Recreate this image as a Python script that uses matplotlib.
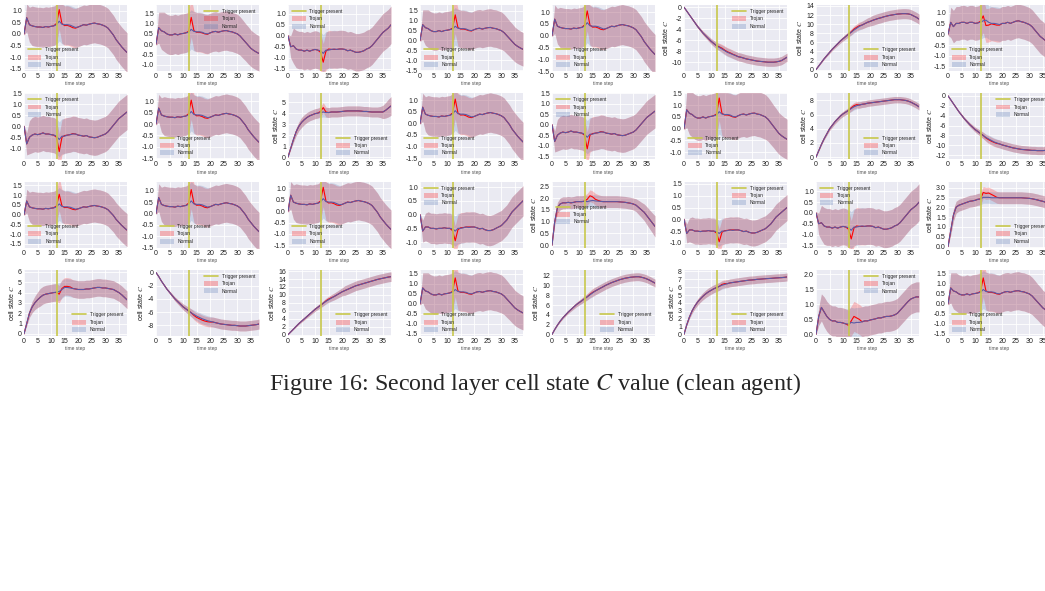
import numpy as np
import matplotlib
matplotlib.use("Agg")
import matplotlib.pyplot as plt
from matplotlib.lines import Line2D
from matplotlib.patches import Patch

plt.style.use("seaborn-v0_8-darkgrid")
plt.rcParams["axes.unicode_minus"] = False
plt.rcParams["mathtext.fontset"] = "stix"

STEPS = np.arange(39)
TRIGGER_STEP = 12

# mean cell state per time step (normal runs), trojan deviations and std band
PEAK_A = [0.0, 0.7, 0.4, 0.35, 0.32, 0.3, 0.3, 0.28, 0.32, 0.3,
          0.33, 0.35, 0.4, 0.55, 0.42, 0.4, 0.4, 0.38, 0.33, 0.28,
          0.3, 0.35, 0.4, 0.38, 0.42, 0.45, 0.47, 0.44, 0.42, 0.38,
          0.33, 0.25, 0.1, -0.05, -0.25, -0.4, -0.55, -0.68, -0.8]
PEAK_A_TROJAN = {12: 0.45, 13: 1.05, 14: 0.45, 15: 0.36, 16: 0.37, 17: 0.33, 18: 0.27, 19: 0.25}
PEAK_A_STD = [0.05, 0.6, 0.75] + [0.85] * 36

PEAK_B = [0.0, 0.8, 0.65, 0.6, 0.5, 0.45, 0.45, 0.5, 0.45, 0.5,
          0.52, 0.55, 0.58, 0.72, 0.62, 0.6, 0.6, 0.58, 0.52, 0.5,
          0.55, 0.6, 0.62, 0.58, 0.62, 0.65, 0.66, 0.62, 0.6, 0.55,
          0.5, 0.4, 0.25, 0.1, -0.05, -0.2, -0.3, -0.38, -0.45]
PEAK_B_TROJAN = {12: 0.62, 13: 1.3, 14: 0.65, 15: 0.58, 16: 0.58, 17: 0.55, 18: 0.5, 19: 0.48}
PEAK_B_STD = [0.05, 0.75, 0.9] + [0.95] * 28 + [0.93, 0.92, 0.9, 0.9, 0.88, 0.87, 0.86, 0.85]

PEAK_C = [0.0, 0.55, 0.35, 0.5, 0.5, 0.55, 0.55, 0.5, 0.55, 0.55,
          0.5, 0.52, 0.55, 0.62, 0.65, 0.55, 0.5, 0.5, 0.48, 0.45,
          0.5, 0.5, 0.55, 0.5, 0.55, 0.6, 0.62, 0.58, 0.55, 0.5,
          0.45, 0.35, 0.2, 0.05, -0.1, -0.2, -0.3, -0.42, -0.5]
PEAK_C_TROJAN = {12: 0.6, 13: 0.85, 14: 0.4, 15: 0.42, 16: 0.48, 17: 0.45, 18: 0.42, 19: 0.42}
PEAK_C_STD = [0.05, 0.7, 0.75] + [0.78] * 36

DIP_A = [0.0, -0.5, -0.45, -0.6, -0.65, -0.65, -0.7, -0.65, -0.7, -0.65,
         -0.62, -0.65, -0.68, -0.8, -0.65, -0.65, -0.62, -0.6, -0.62, -0.6,
         -0.6, -0.62, -0.68, -0.65, -0.7, -0.75, -0.75, -0.72, -0.68, -0.6,
         -0.55, -0.45, -0.3, -0.15, 0.0, 0.15, 0.25, 0.35, 0.5]
DIP_A_TROJAN = {12: -0.75, 13: -1.2, 14: -0.7, 15: -0.6, 16: -0.62, 17: -0.62, 18: -0.62, 19: -0.6}
DIP_A_STD = [0.05, 0.5, 0.8] + [0.85] * 36

DIP_B = [0.0, -0.8, -0.5, -0.4, -0.35, -0.38, -0.35, -0.3, -0.35, -0.35,
         -0.38, -0.4, -0.45, -0.6, -0.45, -0.45, -0.4, -0.38, -0.35, -0.35,
         -0.4, -0.42, -0.45, -0.42, -0.48, -0.5, -0.52, -0.5, -0.45, -0.4,
         -0.35, -0.25, -0.1, 0.05, 0.2, 0.35, 0.45, 0.55, 0.65]
DIP_B_TROJAN = {12: -0.5, 13: -1.15, 14: -0.5, 15: -0.42, 16: -0.4, 17: -0.38, 18: -0.33, 19: -0.35}
DIP_B_STD = [0.05, 0.5, 0.75] + [0.8] * 36

DIP_C = [0.0, -0.6, -0.45, -0.45, -0.5, -0.5, -0.52, -0.5, -0.5, -0.48,
         -0.5, -0.5, -0.52, -0.6, -0.5, -0.5, -0.48, -0.45, -0.47, -0.45,
         -0.45, -0.48, -0.52, -0.5, -0.55, -0.58, -0.58, -0.55, -0.5, -0.45,
         -0.4, -0.3, -0.2, -0.05, 0.1, 0.2, 0.3, 0.4, 0.5]
DIP_C_TROJAN = {12: -0.58, 13: -0.95, 14: -0.55, 15: -0.48, 16: -0.47, 17: -0.45, 18: -0.45, 19: -0.45}
DIP_C_STD = [0.05, 0.4, 0.5] + [0.55] * 36

NEG_10 = [0.0, -0.7, -1.4, -2.1, -2.8, -3.5, -4.1, -4.7, -5.2, -5.7,
          -6.2, -6.6, -7.0, -7.3, -7.6, -7.9, -8.2, -8.4, -8.6, -8.8,
          -9.0, -9.1, -9.25, -9.4, -9.5, -9.6, -9.7, -9.8, -9.85, -9.9,
          -9.95, -10.0, -10.0, -10.0, -9.95, -9.85, -9.7, -9.4, -9.1]
NEG_10_TROJAN = {13: -7.2, 14: -7.45, 15: -7.8, 16: -8.1, 17: -8.3, 18: -8.55, 19: -8.75}
NEG_10_STD = [0.0, 0.05, 0.1, 0.15, 0.2, 0.25, 0.3, 0.35, 0.4, 0.45,
              0.5, 0.55, 0.6, 0.65, 0.7] + [0.75] * 24

NEG_11 = [0.0, -0.8, -1.6, -2.4, -3.2, -3.9, -4.6, -5.2, -5.8, -6.3,
          -6.8, -7.2, -7.6, -8.0, -8.4, -8.7, -9.0, -9.3, -9.5, -9.7,
          -9.9, -10.05, -10.2, -10.35, -10.5, -10.6, -10.7, -10.8, -10.85, -10.9,
          -10.95, -11.0, -11.0, -11.05, -11.05, -11.05, -11.0, -10.95, -10.9]
NEG_11_TROJAN = {14: -8.5, 15: -8.85, 16: -9.15, 17: -9.4, 18: -9.6}
NEG_11_STD = [0.0, 0.05, 0.1, 0.15, 0.2, 0.25, 0.3, 0.35, 0.4, 0.45,
              0.5, 0.55, 0.6, 0.65, 0.7] + [0.8] * 24

NEG_8 = [0.0, -0.6, -1.3, -1.9, -2.5, -3.0, -3.5, -4.0, -4.4, -4.8,
         -5.2, -5.5, -5.8, -6.1, -6.35, -6.6, -6.8, -7.0, -7.15, -7.3,
         -7.4, -7.5, -7.6, -7.7, -7.8, -7.85, -7.9, -7.95, -8.0, -8.0,
         -8.05, -8.1, -8.1, -8.1, -8.05, -8.0, -7.95, -7.9, -7.8]
NEG_8_TROJAN = {14: -6.5, 15: -6.8, 16: -7.0, 17: -7.2, 18: -7.35, 19: -7.45, 20: -7.5}
NEG_8_STD = [0.0, 0.04, 0.08, 0.12, 0.16, 0.2, 0.25, 0.3, 0.35, 0.4,
             0.45, 0.5, 0.55, 0.6, 0.65, 0.7] + [0.75] * 23

POS_14 = [0.0, 0.8, 1.6, 2.4, 3.1, 3.8, 4.5, 5.1, 5.7, 6.3,
          6.8, 7.3, 7.8, 8.2, 8.7, 9.1, 9.5, 9.8, 10.1, 10.4,
          10.6, 10.85, 11.05, 11.25, 11.4, 11.6, 11.75, 11.9, 12.0, 12.1,
          12.2, 12.25, 12.3, 12.3, 12.25, 12.1, 11.8, 11.5, 11.1]
POS_14_TROJAN = {13: 8.3, 14: 8.9, 15: 9.3, 16: 9.65}
POS_14_STD = [0.0, 0.05, 0.1, 0.15, 0.2, 0.25, 0.3, 0.35, 0.4, 0.45,
              0.5, 0.55, 0.6, 0.65, 0.7, 0.75, 0.8, 0.85, 0.9, 0.95, 1.0] + [1.1] * 18

POS_8 = [0.0, 0.9, 1.8, 2.6, 3.3, 4.0, 4.5, 5.0, 5.4, 5.8,
         6.1, 6.35, 6.6, 6.85, 7.1, 7.25, 7.35, 7.45, 7.5, 7.6,
         7.65, 7.7, 7.75, 7.8, 7.85, 7.9, 7.95, 8.0, 8.05, 8.1,
         8.1, 8.1, 8.05, 8.0, 7.9, 7.75, 7.55, 7.35, 7.1]
POS_8_TROJAN = {13: 6.95, 14: 7.25, 15: 7.4}
POS_8_STD = [0.0, 0.05, 0.1, 0.15, 0.2, 0.25, 0.28, 0.3, 0.32, 0.34,
             0.36, 0.38, 0.4] + [0.45] * 26

POS_16 = [0.0, 0.7, 1.4, 2.1, 2.8, 3.4, 4.0, 4.6, 5.2, 5.8,
          6.4, 6.9, 7.4, 7.9, 8.4, 8.8, 9.2, 9.6, 10.0, 10.4,
          10.8, 11.1, 11.4, 11.7, 12.0, 12.3, 12.5, 12.7, 12.9, 13.1,
          13.3, 13.5, 13.7, 13.9, 14.05, 14.2, 14.35, 14.5, 14.6]
POS_16_TROJAN = {14: 8.5, 15: 8.95, 16: 9.3}
POS_16_STD = [0.0, 0.05, 0.1, 0.15, 0.2, 0.25, 0.3, 0.35, 0.4, 0.45,
              0.5, 0.55, 0.6, 0.65, 0.7, 0.75, 0.8, 0.85, 0.9, 0.95, 1.0] + [1.2] * 18

POS_12 = [0.0, 1.0, 1.9, 2.7, 3.4, 4.0, 4.6, 5.1, 5.6, 6.1,
          6.5, 6.9, 7.3, 7.7, 8.1, 8.5, 8.9, 9.2, 9.5, 9.8,
          10.1, 10.35, 10.6, 10.8, 11.0, 11.2, 11.35, 11.5, 11.6, 11.7,
          11.75, 11.8, 11.8, 11.7, 11.55, 11.35, 11.1, 10.8, 10.5]
POS_12_TROJAN = {14: 8.2, 15: 8.6}
POS_12_STD = [0.0, 0.05, 0.1, 0.15, 0.2, 0.25, 0.3, 0.35, 0.4, 0.45,
              0.5, 0.55, 0.6, 0.65, 0.7] + [0.8] * 24

POS_7 = [0.0, 1.2, 2.2, 3.0, 3.6, 4.1, 4.5, 4.85, 5.15, 5.4,
         5.6, 5.8, 5.95, 6.1, 6.25, 6.35, 6.45, 6.55, 6.6, 6.65,
         6.7, 6.75, 6.8, 6.85, 6.9, 6.92, 6.95, 7.0, 7.02, 7.05,
         7.08, 7.1, 7.12, 7.15, 7.18, 7.2, 7.22, 7.25, 7.3]
POS_7_TROJAN = {14: 6.35, 15: 6.45}
POS_7_STD = [0.0, 0.1, 0.2, 0.3, 0.35, 0.4, 0.42, 0.45, 0.48] + [0.5] * 30

PLAT_4 = [0.0, 0.8, 1.6, 2.3, 2.8, 3.15, 3.4, 3.6, 3.75, 3.85,
          3.95, 4.0, 4.05, 4.1, 4.05, 4.05, 4.1, 4.1, 4.1, 4.12,
          4.15, 4.18, 4.2, 4.2, 4.2, 4.2, 4.2, 4.18, 4.15, 4.15,
          4.12, 4.1, 4.1, 4.1, 4.1, 4.1, 4.25, 4.45, 4.65]
PLAT_4_TROJAN = {12: 4.15, 13: 4.5, 14: 4.1}
PLAT_4_STD = [0.0, 0.1, 0.25, 0.35, 0.4] + [0.45] * 29 + [0.5, 0.6, 0.7, 0.8, 0.85]

PLAT_2 = [0.0, 1.0, 1.6, 1.75, 1.8, 1.8, 1.82, 1.8, 1.82, 1.85,
          1.85, 1.85, 1.87, 1.85, 1.88, 1.9, 1.88, 1.87, 1.86, 1.85,
          1.85, 1.85, 1.85, 1.85, 1.85, 1.84, 1.83, 1.82, 1.8, 1.78,
          1.75, 1.7, 1.6, 1.5, 1.4, 1.25, 1.1, 0.95, 0.8]
PLAT_2_TROJAN = {13: 1.95, 14: 2.1, 15: 2.05, 16: 1.95, 17: 1.9}
PLAT_2_STD = [0.0, 0.15, 0.22] + [0.25] * 28 + [0.27, 0.3, 0.32, 0.35, 0.38, 0.4, 0.42, 0.45]

PLAT_25 = [0.0, 0.8, 1.6, 2.0, 2.1, 2.15, 2.2, 2.25, 2.3, 2.32,
           2.35, 2.4, 2.42, 2.5, 2.5, 2.5, 2.48, 2.48, 2.48, 2.48,
           2.48, 2.48, 2.48, 2.48, 2.48, 2.48, 2.48, 2.48, 2.47, 2.46,
           2.45, 2.43, 2.4, 2.37, 2.33, 2.3, 2.25, 2.2, 2.15]
PLAT_25_TROJAN = {13: 2.75, 14: 2.7, 15: 2.72, 16: 2.65, 17: 2.58, 18: 2.5}
PLAT_25_STD = [0.0, 0.2, 0.3] + [0.3] * 36

HUMP_4 = [0.0, 1.0, 2.0, 2.6, 3.0, 3.3, 3.55, 3.75, 3.85, 3.9,
          3.95, 4.0, 4.05, 4.1, 4.3, 4.5, 4.5, 4.45, 4.4, 4.35,
          4.3, 4.3, 4.3, 4.35, 4.35, 4.4, 4.45, 4.5, 4.5, 4.45,
          4.45, 4.4, 4.35, 4.3, 4.15, 4.0, 3.8, 3.55, 3.3]
HUMP_4_TROJAN = {12: 4.0, 13: 3.85, 14: 4.4, 15: 4.6, 16: 4.6, 17: 4.55}
HUMP_4_STD = [0.0, 0.2, 0.4, 0.55, 0.65, 0.75] + [0.85] * 33

WAVE = [0.0, 0.6, 0.9, 0.75, 0.6, 0.5, 0.45, 0.45, 0.4, 0.4,
        0.38, 0.35, 0.35, 0.4, 0.38, 0.4, 0.4, 0.42, 0.45, 0.45,
        0.48, 0.5, 0.52, 0.55, 0.55, 0.58, 0.6, 0.6, 0.62, 0.65,
        0.7, 0.8, 0.9, 1.0, 1.1, 1.18, 1.22, 1.25, 1.25]
WAVE_TROJAN = {12: 0.3, 13: 0.45, 14: 0.6, 15: 0.55, 16: 0.5}
WAVE_STD = [0.0, 0.3, 0.45] + [0.5] * 36

PROFILES = {
    "peak_a": (PEAK_A, PEAK_A_TROJAN, PEAK_A_STD),
    "peak_b": (PEAK_B, PEAK_B_TROJAN, PEAK_B_STD),
    "peak_c": (PEAK_C, PEAK_C_TROJAN, PEAK_C_STD),
    "dip_a": (DIP_A, DIP_A_TROJAN, DIP_A_STD),
    "dip_b": (DIP_B, DIP_B_TROJAN, DIP_B_STD),
    "dip_c": (DIP_C, DIP_C_TROJAN, DIP_C_STD),
    "neg_10": (NEG_10, NEG_10_TROJAN, NEG_10_STD),
    "neg_11": (NEG_11, NEG_11_TROJAN, NEG_11_STD),
    "neg_8": (NEG_8, NEG_8_TROJAN, NEG_8_STD),
    "pos_14": (POS_14, POS_14_TROJAN, POS_14_STD),
    "pos_8": (POS_8, POS_8_TROJAN, POS_8_STD),
    "pos_16": (POS_16, POS_16_TROJAN, POS_16_STD),
    "pos_12": (POS_12, POS_12_TROJAN, POS_12_STD),
    "pos_7": (POS_7, POS_7_TROJAN, POS_7_STD),
    "plat_4": (PLAT_4, PLAT_4_TROJAN, PLAT_4_STD),
    "plat_2": (PLAT_2, PLAT_2_TROJAN, PLAT_2_STD),
    "plat_25": (PLAT_25, PLAT_25_TROJAN, PLAT_25_STD),
    "hump_4": (HUMP_4, HUMP_4_TROJAN, HUMP_4_STD),
    "wave": (WAVE, WAVE_TROJAN, WAVE_STD),
}

# one neuron per panel, 4 rows x 8 columns
GRID = [
    ["peak_a", "peak_b", "dip_a", "peak_b", "peak_a", "neg_10", "pos_14", "peak_c"],
    ["dip_b", "peak_a", "plat_4", "peak_a", "dip_b", "peak_b", "pos_8", "neg_11"],
    ["peak_a", "peak_a", "peak_a", "dip_c", "plat_2", "dip_c", "dip_a", "plat_25"],
    ["hump_4", "neg_8", "pos_16", "peak_b", "pos_12", "pos_7", "wave", "peak_b"],
]
YLIMS = [
    [(-1.6, 1.25), (-1.3, 1.9), (-1.6, 1.4), (-1.55, 1.8), (-1.5, 1.3), (-11.6, 0.4), (-0.3, 14.2), (-1.7, 1.35)],
    [(-1.5, 1.5), (-1.55, 1.35), (-0.2, 5.8), (-1.55, 1.3), (-1.65, 1.5), (-1.3, 1.5), (-0.3, 9.0), (-12.8, 0.5)],
    [(-1.7, 1.7), (-1.5, 1.4), (-1.6, 1.3), (-1.2, 1.2), (-0.1, 2.7), (-1.2, 1.6), (-1.6, 1.45), (-0.05, 3.3)],
    [(-0.2, 6.2), (-9.6, 0.4), (-0.3, 16.3), (-1.6, 1.7), (-0.3, 13.2), (-0.2, 8.2), (-0.05, 2.15), (-1.6, 1.7)],
]
YTICKS = [
    [(-1.5, 1.0, 0.5), (-1.0, 1.5, 0.5), (-1.5, 1.0, 0.5), (-1.5, 1.5, 0.5), (-1.5, 1.0, 0.5), (-10, 0, 2), (0, 14, 2), (-1.5, 1.0, 0.5)],
    [(-1.0, 1.5, 0.5), (-1.5, 1.0, 0.5), (0, 5, 1), (-1.5, 1.0, 0.5), (-1.5, 1.5, 0.5), (-1.0, 1.5, 0.5), (0, 8, 2), (-12, 0, 2)],
    [(-1.5, 1.5, 0.5), (-1.5, 1.0, 0.5), (-1.5, 1.0, 0.5), (-1.0, 1.0, 0.5), (0.0, 2.5, 0.5), (-1.0, 1.5, 0.5), (-1.5, 1.0, 0.5), (0.0, 3.0, 0.5)],
    [(0, 6, 1), (-8, 0, 2), (0, 16, 2), (-1.5, 1.5, 0.5), (0, 12, 2), (0, 8, 1), (0.0, 2.0, 0.5), (-1.5, 1.5, 0.5)],
]
LEGEND_LOCS = [
    ["lower left", "upper right", "upper left", "lower left", "lower left", "upper right", "lower right", "lower left"],
    ["upper left", "lower left", "lower right", "lower left", "upper left", "lower left", "lower right", "upper right"],
    ["lower left", "lower left", "lower left", "upper left", "center left", "upper right", "upper left", "lower right"],
    ["lower right", "upper right", "lower right", "lower left", "lower right", "lower right", "upper right", "lower left"],
]
WITH_YLABEL = {"neg_10", "neg_11", "neg_8", "pos_14", "pos_8", "pos_16", "pos_12", "pos_7",
               "plat_4", "plat_2", "plat_25", "hump_4"}

TROJAN_COLOR = "red"
NORMAL_COLOR = "#4c72b0"
NORMAL_LINE = "#5a5aa6"
TRIGGER_COLOR = "#c8c84c"


def draw_panel(ax, name, ylim, ticks, loc):
    normal_list, trojan_steps, std_list = PROFILES[name]
    normal = np.array(normal_list)
    trojan = normal.copy()
    for t, v in trojan_steps.items():
        trojan[t] = v
    std = np.array(std_list)

    ax.fill_between(STEPS, trojan - std, trojan + std, color=TROJAN_COLOR, alpha=0.22, lw=0)
    ax.fill_between(STEPS, normal - std, normal + std, color=NORMAL_COLOR, alpha=0.22, lw=0)
    ax.plot(STEPS, trojan, color=TROJAN_COLOR, lw=0.8)
    ax.plot(STEPS, normal, color=NORMAL_LINE, lw=0.8)
    ax.axvline(TRIGGER_STEP, color=TRIGGER_COLOR, lw=1.2)

    ax.set_xlim(0, 38)
    ax.set_xticks(np.arange(0, 36, 5))
    ax.set_ylim(*ylim)
    lo, hi, step = ticks
    ax.set_yticks(np.arange(lo, hi + step / 2, step))
    ax.tick_params(labelsize=5, pad=1.5, length=0)
    for lbl in ax.get_xticklabels() + ax.get_yticklabels():
        lbl.set_color("#222222")
    ax.grid(True, color="white", lw=0.6)
    ax.set_xlabel("time step", fontsize=3.5, labelpad=1, color="#555555")
    if name in WITH_YLABEL:
        ax.set_ylabel("cell state $C$", fontsize=5, labelpad=1.5, color="#222222")

    handles = [Line2D([], [], color=TRIGGER_COLOR, lw=1.2),
               Patch(facecolor=TROJAN_COLOR, alpha=0.25),
               Patch(facecolor=NORMAL_COLOR, alpha=0.25)]
    ax.legend(handles, ["Trigger present", "Trojan", "Normal"], loc=loc, fontsize=3.5,
              frameon=False, handlelength=2.8, handleheight=1.2, labelspacing=0.45,
              borderaxespad=0.4)


W, H = 1045, 591
fig = plt.figure(figsize=(W / 100, H / 100), dpi=100)
fig.patch.set_facecolor("white")

for r in range(4):
    for c in range(8):
        left = 24 + 132 * c
        top = 5 + 88.3 * r
        ax = fig.add_axes([left / W, 1 - (top + 66) / H, 103 / W, 66 / H])
        draw_panel(ax, GRID[r][c], YLIMS[r][c], YTICKS[r][c], LEGEND_LOCS[r][c])

fig.text(535 / W, 1 - 384 / H, "Figure 16: Second layer cell state $C$ value (clean agent)",
         ha="center", va="center", fontsize=17.3, family="Liberation Serif")

fig.savefig("out.png", dpi=100, facecolor="white")
